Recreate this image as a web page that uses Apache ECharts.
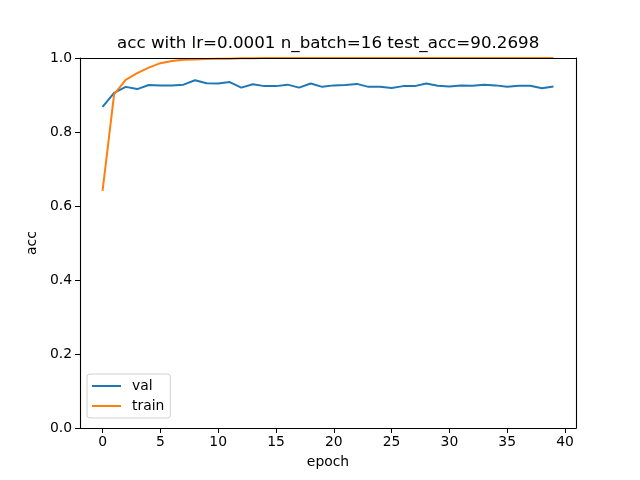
<!DOCTYPE html>
<html>
<head>
<meta charset="utf-8">
<script src="https://cdn.jsdelivr.net/npm/echarts@6/dist/echarts.min.js"></script>
<style>
  html, body { margin: 0; padding: 0; background: #fff; }
  #chart { width: 640px; height: 480px; }
</style>
</head>
<body>
<div id="chart"></div>
<script>
// 数据:acc 曲线
var epochs = [];
for (var e = 0; e < 40; e++) epochs.push(e);
var valAcc = [0.868, 0.906, 0.922, 0.916, 0.927, 0.926, 0.926, 0.928, 0.940, 0.932,
              0.931, 0.935, 0.920, 0.929, 0.924, 0.924, 0.928, 0.920, 0.931, 0.922,
              0.926, 0.927, 0.930, 0.922, 0.922, 0.919, 0.924, 0.924, 0.931, 0.925,
              0.923, 0.926, 0.925, 0.928, 0.926, 0.922, 0.925, 0.925, 0.918, 0.923];
var trainAcc = [0.641, 0.902, 0.941, 0.959, 0.974, 0.986, 0.992, 0.995, 0.996, 0.997,
                0.998, 0.998, 0.999, 0.999, 1.0, 1.0, 1.0, 1.0, 1.0, 1.0,
                1.0, 1.0, 1.0, 1.0, 1.0, 1.0, 1.0, 1.0, 1.0, 1.0,
                1.0, 1.0, 1.0, 1.0, 1.0, 1.0, 1.0, 1.0, 1.0, 1.0];
var xTicks = [0, 5, 10, 15, 20, 25, 30, 35, 40];
var titleText = 'acc with lr=0.0001 n_batch=16 test_acc=90.2698';

var FONT = 'DejaVu Sans';
function pairs(ys) {
  return ys.map(function (y, i) { return [epochs[i], y]; });
}
// 框线放到上层(zlevel 1),盖住贴在 1.0 上的 train 线
function frameAxis(pos, extra) {
  return Object.assign({
    type: 'value', position: pos, zlevel: 1, z: 10,
    axisLine: { show: true, onZero: false, lineStyle: { color: '#000', width: 1.1 } },
    axisTick: { show: false }, axisLabel: { show: false }, splitLine: { show: false }
  }, extra);
}

var chart = echarts.init(document.getElementById('chart'));
chart.setOption({
  animation: false,
  backgroundColor: '#fff',
  title: {
    text: titleText, left: 117, top: 35, padding: 0,
    textStyle: { fontFamily: FONT, fontSize: 16.7, fontWeight: 'normal', color: '#000' }
  },
  grid: { left: 80, top: 58, width: 496, height: 370, show: false },
  legend: {
    orient: 'vertical', left: 87, top: 374,
    padding: [5, 6, 5, 5], itemGap: 6, itemWidth: 29, itemHeight: 2,
    backgroundColor: 'rgba(255,255,255,0.8)', borderColor: '#d0d0d0', borderWidth: 1, borderRadius: 3,
    textStyle: { fontFamily: FONT, fontSize: 13.9, color: '#000', padding: [0, 0, 0, 6] },
    data: [{ name: 'val', icon: 'rect' }, { name: 'train', icon: 'rect' }]
  },
  xAxis: [{
    type: 'value', min: -1.95, max: 40.95, zlevel: 1,
    name: 'epoch', nameLocation: 'middle', nameGap: 27,
    nameTextStyle: { fontFamily: FONT, fontSize: 13.9, color: '#000' },
    axisLine: { show: true, onZero: false, lineStyle: { color: '#000', width: 1.1 } },
    axisTick: { show: true, length: 5, customValues: xTicks, lineStyle: { color: '#000' } },
    axisLabel: { customValues: xTicks, margin: 7, fontFamily: FONT, fontSize: 13.9, color: '#000' },
    splitLine: { show: false }
  }, frameAxis('top', { min: -1.95, max: 40.95 })],
  yAxis: [{
    type: 'value', min: 0, max: 1, interval: 0.2, zlevel: 1,
    name: 'acc', nameLocation: 'middle', nameGap: 36, nameRotate: 90,
    nameTextStyle: { fontFamily: FONT, fontSize: 13.9, color: '#000' },
    axisLine: { show: true, onZero: false, lineStyle: { color: '#000', width: 1.1 } },
    axisTick: { show: true, length: 5, lineStyle: { color: '#000' } },
    axisLabel: { margin: 8, fontFamily: FONT, fontSize: 13.9, color: '#000',
                 formatter: function (v) { return v.toFixed(1); } },
    splitLine: { show: false }
  }, frameAxis('right', { min: 0, max: 1 })],
  series: [{
    name: 'val', type: 'line', data: pairs(valAcc), symbol: 'none', z: 1,
    lineStyle: { color: '#1f77b4', width: 2 }, itemStyle: { color: '#1f77b4' }
  }, {
    name: 'train', type: 'line', data: pairs(trainAcc), symbol: 'none', z: 1,
    lineStyle: { color: '#ff7f0e', width: 2 }, itemStyle: { color: '#ff7f0e' }
  }]
});
</script>
</body>
</html>
